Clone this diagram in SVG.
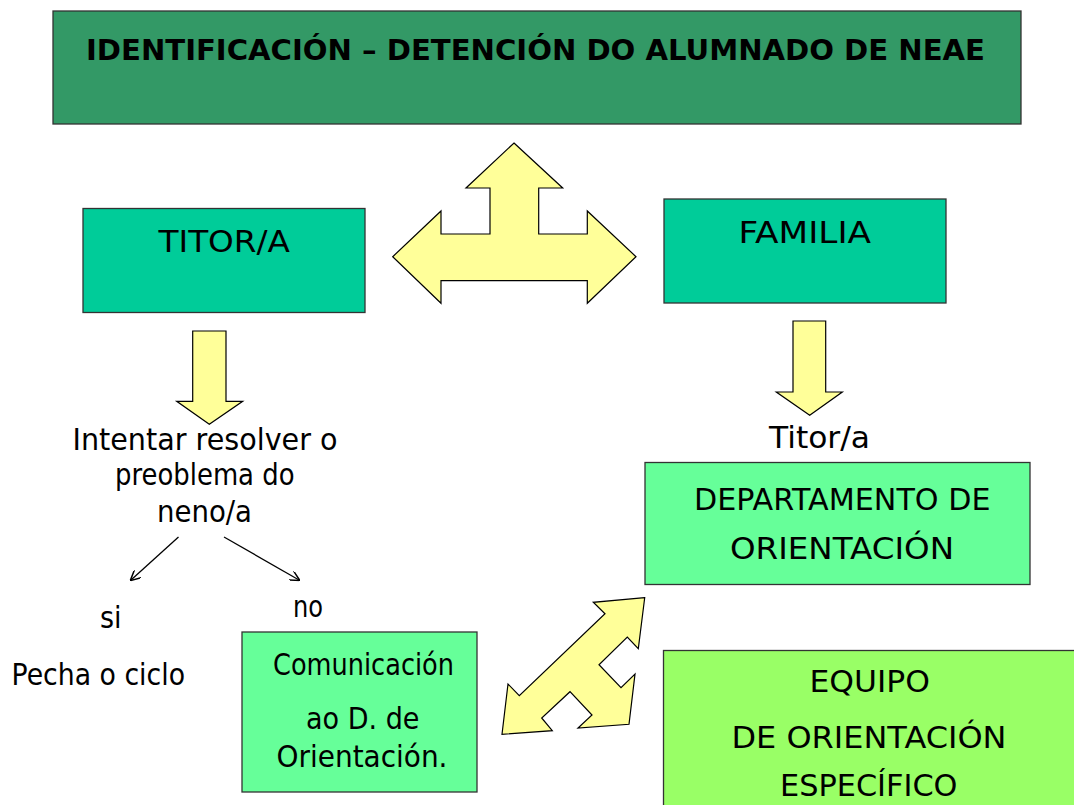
<svg xmlns="http://www.w3.org/2000/svg" width="1074" height="805" viewBox="0 0 1074 805">
<style>
  .box { stroke: #333333; stroke-width: 1.3; }
  .t { font-family: "Comic Sans MS", "DejaVu Sans", sans-serif; font-size: 30px; fill: #000000; }
  .tb { font-family: "Comic Sans MS", "DejaVu Sans", sans-serif; font-size: 28px; font-weight: bold; fill: #000000; }
  .blk { fill: #FFFF99; stroke: #000000; stroke-width: 1.2; stroke-linejoin: miter; }
  .ln { stroke: #000000; stroke-width: 1.3; fill: none; marker-end: url(#ah); }
</style>
<defs>
  <marker id="ah" viewBox="0 0 10 10" refX="9" refY="5" markerWidth="10" markerHeight="10" markerUnits="userSpaceOnUse" orient="auto">
    <path d="M0,0 L10,5 L0,10" fill="none" stroke="#000000" stroke-width="1.5"/>
  </marker>
</defs>
<rect width="1074" height="805" fill="#FFFFFF"/>

<g id="title">
  <rect class="box" x="53" y="11" width="968" height="113" fill="#339966"/>
  <text class="tb" x="86" y="60" textLength="899" lengthAdjust="spacingAndGlyphs">IDENTIFICACIÓN – DETENCIÓN DO ALUMNADO DE NEAE</text>
</g>

<g id="titor">
  <rect class="box" x="83" y="208.5" width="282" height="104" fill="#00CC99"/>
  <text class="t" x="158.5" y="252" textLength="131.5" lengthAdjust="spacingAndGlyphs">TITOR/A</text>
</g>

<g id="familia">
  <rect class="box" x="664" y="199" width="282" height="104" fill="#00CC99"/>
  <text class="t" x="738.5" y="243" textLength="132.5" lengthAdjust="spacingAndGlyphs">FAMILIA</text>
</g>

<g id="intentar">
  <text class="t" x="72.5" y="449.5" textLength="265" lengthAdjust="spacingAndGlyphs">Intentar resolver o</text>
  <text class="t" x="115" y="485" textLength="179.5" lengthAdjust="spacingAndGlyphs">preoblema do</text>
  <text class="t" x="157" y="521.5" textLength="95" lengthAdjust="spacingAndGlyphs">neno/a</text>
</g>

<g id="si">
  <text class="t" x="100" y="628" textLength="21.5" lengthAdjust="spacingAndGlyphs">si</text>
  <text class="t" x="11.5" y="685" textLength="173.5" lengthAdjust="spacingAndGlyphs">Pecha o ciclo</text>
</g>

<g id="no">
  <text class="t" x="293" y="617" textLength="30" lengthAdjust="spacingAndGlyphs">no</text>
</g>

<g id="comunicacion">
  <rect class="box" x="242" y="632" width="235" height="160" fill="#66FF99"/>
  <text class="t" x="273" y="675" textLength="181" lengthAdjust="spacingAndGlyphs">Comunicación</text>
  <text class="t" x="306" y="729" textLength="113.5" lengthAdjust="spacingAndGlyphs">ao D. de</text>
  <text class="t" x="276.5" y="766.5" textLength="171" lengthAdjust="spacingAndGlyphs">Orientación.</text>
</g>

<g id="titora">
  <text class="t" x="769" y="448" textLength="101" lengthAdjust="spacingAndGlyphs">Titor/a</text>
</g>

<g id="departamento">
  <rect class="box" x="645" y="462.5" width="385" height="122" fill="#66FF99"/>
  <text class="t" x="694" y="510" textLength="296.5" lengthAdjust="spacingAndGlyphs">DEPARTAMENTO DE</text>
  <text class="t" x="730" y="558.5" textLength="224" lengthAdjust="spacingAndGlyphs">ORIENTACIÓN</text>
</g>

<g id="equipo">
  <rect class="box" x="663.5" y="650.5" width="420" height="170" fill="#99FF66"/>
  <text class="t" x="809.5" y="692" textLength="120.5" lengthAdjust="spacingAndGlyphs">EQUIPO</text>
  <text class="t" x="731.5" y="748" textLength="275" lengthAdjust="spacingAndGlyphs">DE ORIENTACIÓN</text>
  <text class="t" x="780" y="796" textLength="177.5" lengthAdjust="spacingAndGlyphs">ESPECÍFICO</text>
</g>

<g id="connectors">
  <polygon class="blk" points="514,143 562.7,188 538.7,188 538.7,234 587.3,234 587.3,211 636,256.7 587.3,303.3 587.3,280.7 441,280.7 441,303.3 392.7,256.7 441,211 441,234 490,234 490,188 466,188"/>
  <polygon class="blk" points="192.7,331 226,331 226,401.3 242.7,401.3 209.3,424.3 176.7,401.3 192.7,401.3"/>
  <polygon class="blk" points="793,321 825.7,321 825.7,392 842.3,392 809.7,415.3 776.3,392 793,392"/>
  <polygon class="blk" points="644.7,597.7 593.3,602.3 605,613.7 519.3,695.7 508,684 502,734.3 552.3,730.7 541.7,718 570,691.7 592,715 578,728 629,724.3 635,674 621,687.7 599,664.7 627.3,637 638.3,648.7"/>
  <line class="ln" x1="178.5" y1="537" x2="131" y2="580"/>
  <line class="ln" x1="224" y1="537" x2="299" y2="580"/>
</g>
</svg>
